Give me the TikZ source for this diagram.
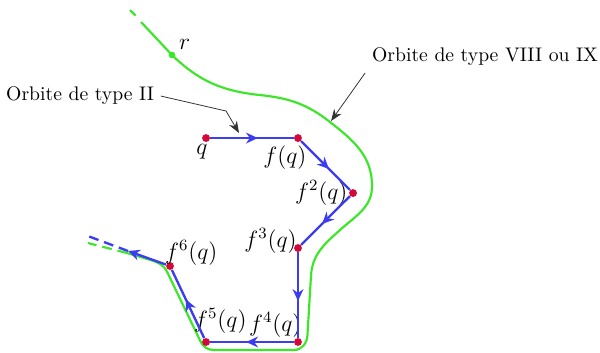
\documentclass[tikz,border=0pt]{standalone}
\usepackage{amsmath,amssymb}
\usetikzlibrary{positioning,calc}
\usetikzlibrary{arrows.meta,decorations.markings}
\definecolor{OrbGreen}{RGB}{60,230,40}
\definecolor{OrbBlue}{RGB}{60,60,240}
\definecolor{OrbRed}{RGB}{210,10,60}
\tikzset{
  pt/.style={circle,fill=OrbRed,inner sep=0pt,minimum size=4pt},
  gpt/.style={circle,fill=OrbGreen,inner sep=0pt,minimum size=3.4pt},
  lab/.style={inner sep=0pt,anchor=center,font=\large},
  flow/.style={draw=OrbBlue,line width=1.2pt,postaction={decorate},
    decoration={markings,mark=at position 0.57 with {\arrow{Stealth[length=6pt,width=5.5pt]}}}},
  orbit/.style={draw=OrbGreen,line width=1.1pt},
  callout/.style={draw=black!80,line width=0.4pt,-{Stealth[length=6pt,width=4.5pt]}},
}

\begin{document}
\begin{tikzpicture}[scale=1]
\useasboundingbox (0,0) rectangle (10.714,6.286);
% orbite de type VIII ou IX
\draw[orbit,dashed,dash pattern=on 4pt off 4pt] (2.321,6.107) -- (2.429,6.000);
\draw[orbit] (2.518,5.893) -- (3.071,5.304)
  to[out=-44,in=174] (4.643,4.589)
  to[out=-6,in=142] (5.893,4.107)
  to[out=-38,in=90] (6.643,2.964)
  to[out=-90,in=42] (6.071,2.179)
  to[out=-138,in=86] (5.554,1.375)
  -- (5.490,0.300)
  to[out=-92,in=0] (5.250,0.036)
  -- (3.820,0.036)
  to[out=180,in=-64] (3.580,0.190)
  -- (2.985,1.430)
  to[out=116,in=-18] (2.700,1.640)
  -- (2.268,1.768);
\draw[orbit,dashed,dash pattern=on 5pt off 3pt] (2.268,1.768) -- (1.571,1.946);
\node[gpt,label={[lab,label distance=0.23cm]40:$r$}] (r) at (3.071,5.304) {};
% points de l'orbite
\node[pt,label={[lab,label distance=0.17cm]-107:$q$}] (q) at (3.679,3.821) {};
\node[pt,label={[lab,label distance=0.34cm]-124:$f(q)$}] (f1) at (5.321,3.821) {};
\node[pt,label={[lab,label distance=0.49cm]180:$f^2(q)$}] (f2) at (6.304,2.839) {};
\node[pt,label={[lab,label distance=0.43cm]165:$f^3(q)$}] (f3) at (5.321,1.857) {};
\node[pt,label={[lab,label distance=0.43cm]143:$f^4(q)$}] (f4) at (5.321,0.179) {};
\node[pt,label={[lab,label distance=0.38cm]56:$f^5(q)$}] (f5) at (3.679,0.179) {};
\node[pt,label={[lab,label distance=0.37cm]32:$f^6(q)$}] (f6) at (3.036,1.536) {};
\coordinate (tail1) at (2.286,1.804);
\coordinate (tail2) at (1.571,2.071);
\draw[flow] (q) -- (f1);
\draw[flow] (f1) -- (f2);
\draw[flow] (f2) -- (f3);
\draw[flow] (f3) -- (f4);
\draw[flow] (f4) -- (f5);
\draw[flow] (f5) -- (f6);
\draw[draw=OrbBlue,line width=1.2pt,-{Stealth[length=6pt,width=5.5pt]}] (f6) -- (tail1);
\draw[draw=OrbBlue,line width=1.2pt,dashed,dash pattern=on 5pt off 3pt] (tail1) -- (tail2);
% legendes
\node (typeII) at (1.429,4.571) {Orbite de type II};
\node (typeVIII) at (8.661,5.268) {Orbite de type VIII ou IX};
\coordinate (bendII) at (4.036,4.304);
\coordinate (tipII) at (4.268,3.911);
\coordinate (tipVIII) at (5.911,4.125);
\draw[callout] (typeII.east) -- (bendII) -- (tipII);
\draw[callout] (typeVIII.south west) -- (tipVIII);
\end{tikzpicture}
\end{document}
